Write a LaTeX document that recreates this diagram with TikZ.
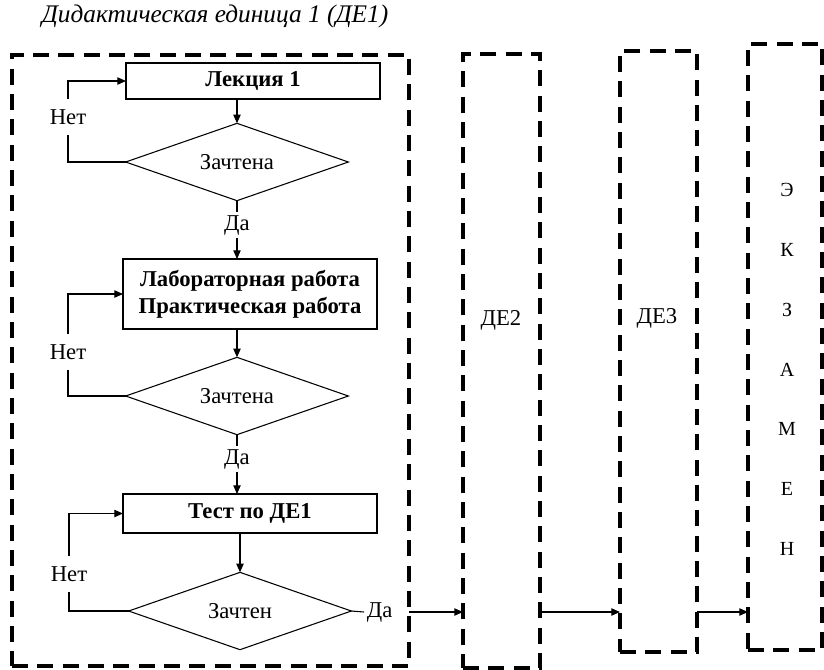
\documentclass[tikz,border=0pt]{standalone}
\usepackage{fontspec}
\setmainfont{Liberation Serif}
\newfontfamily\timesfont{Liberation Serif}
\usetikzlibrary{shapes.geometric,arrows.meta}

\tikzset{
  unitbox/.style={draw, dash pattern=on 12pt off 7pt, line width=3pt, inner sep=0pt, outer sep=0pt},
  procbox/.style={draw, line width=2.2pt, minimum width=190.5pt, font=\timesfont\fontsize{17}{20}\selectfont\bfseries, align=center, outer sep=0pt},
  check/.style={draw, diamond, aspect=2.9, minimum width=167pt, minimum height=58pt, inner sep=0pt, outer sep=0pt, line width=0.8pt},
  lbl/.style={inner sep=2pt},
  nolbl/.style={inner xsep=1pt, inner ysep=8pt},
  flow/.style={line width=0.8pt, -{Triangle[length=6.5pt,width=5.5pt]}},
  link/.style={line width=0.8pt}
}

\begin{document}
\begin{tikzpicture}[x=0.75pt,y=-0.75pt,font=\timesfont\fontsize{17}{20}\selectfont]
\useasboundingbox (0,0) rectangle (824,669);

% didactic units
\node[unitbox, minimum width=297.75pt, minimum height=458.25pt] (de1) at (210.5,360.5) {};
\node[unitbox, minimum width=57.75pt, minimum height=460.5pt] (de2) at (501.5,361) {};
\node[unitbox, minimum width=57.75pt, minimum height=450.75pt] (de3) at (658.5,351.5) {};
\node[unitbox, minimum width=55.5pt, minimum height=454.5pt] (exam) at (785,347) {};

\node[font=\timesfont\fontsize{19}{22}\selectfont\itshape] (title) at (215,16) {Дидактическая единица 1 (ДЕ1)};
\node (de2txt) at (501,320) {ДЕ2};
\node (de3txt) at (657,318) {ДЕ3};
\foreach \ch [count=\i from 0] in {Э,К,З,А,М,Е,Н}
  \node[font=\timesfont\fontsize{15}{17}\selectfont] (ex\i) at (787,190+59.8*\i) {\ch};

% flow inside DE1
\node[procbox, minimum height=27pt] (lec) at (253,81) {Лекция 1};
\node[check] (chk1) at (237,162) {Зачтена};
\node[lbl] (yes1) at (237,225) {Да};
\node[procbox, minimum height=52.5pt] (lab) at (250,294) {Лабораторная работа\\Практическая работа};
\node[check] (chk2) at (237,396) {Зачтена};
\node[lbl] (yes2) at (237,459) {Да};
\node[procbox, minimum height=29.25pt] (test) at (250,513.5) {Тест по ДЕ1};
\node[check] (chk3) at (240,611) {Зачтен};
\node[lbl, anchor=west] (yes3) at (364,612) {Да};

\node[nolbl] (no1) at (68,117) {Нет};
\node[nolbl] (no2) at (68,352) {Нет};
\node[nolbl] (no3) at (69,574) {Нет};

\draw[flow] (chk1.north |- lec.south) -- (chk1.north);
\draw[link] (chk1.south) -- (yes1.north);
\draw[flow] (yes1.south) -- (yes1.south |- lab.north);
\draw[flow] (chk2.north |- lab.south) -- (chk2.north);
\draw[link] (chk2.south) -- (yes2.north);
\draw[flow] (yes2.south) -- (yes2.south |- test.north);
\draw[flow] (chk3.north |- test.south) -- (chk3.north);
\draw[link] (chk3.east) -- (yes3.west);

\draw[link] (chk1.west) -| (no1.south);
\draw[flow] (no1.north) |- (lec.west);
\draw[link] (chk2.west) -| (no2.south);
\draw[flow] (no2.north) |- (lab.west);
\draw[link] (chk3.west) -| (no3.south);
\draw[flow] (no3.north) |- (test.west);

% between units
\draw[flow] (de1.east |- yes3) -- (de2.west |- yes3);
\draw[flow] (de2.east |- yes3) -- (de3.west |- yes3);
\draw[flow] (de3.east |- yes3) -- (exam.west |- yes3);
\end{tikzpicture}
\end{document}
